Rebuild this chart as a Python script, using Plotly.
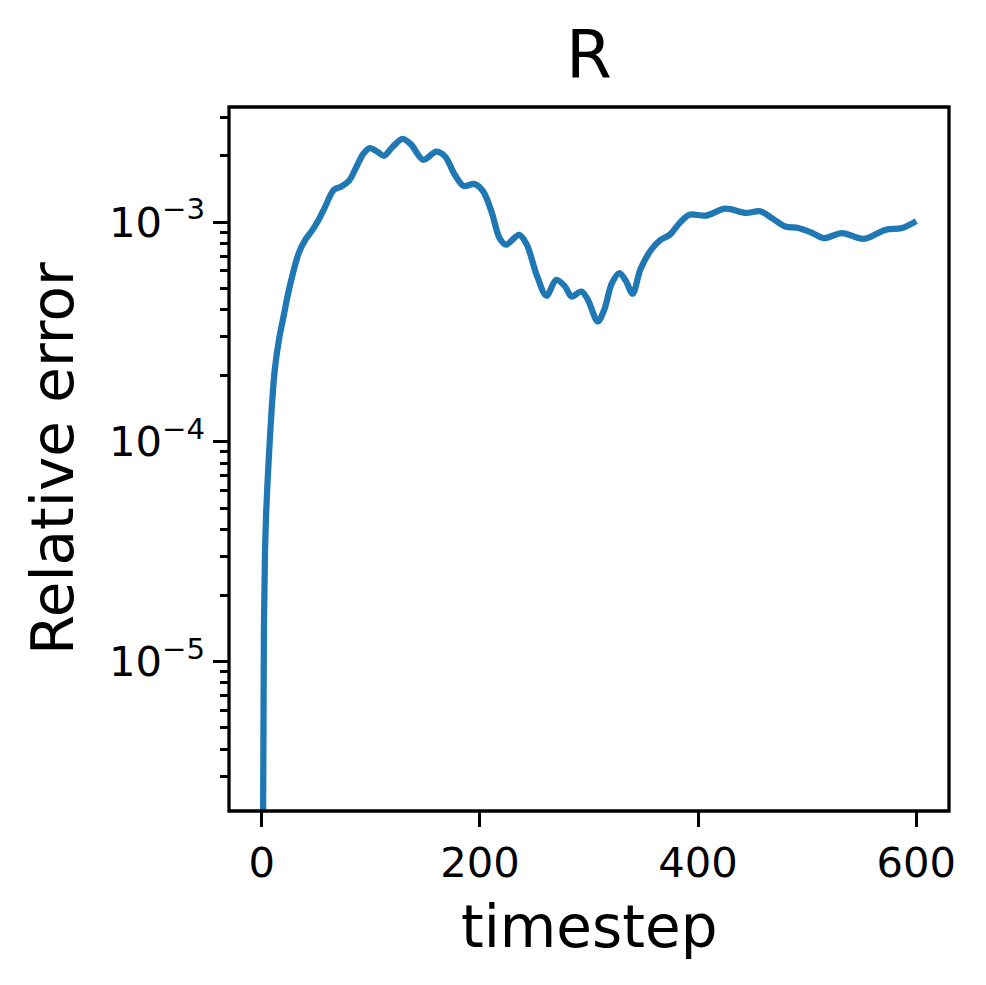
import plotly.graph_objects as go

# ---- data ----
timestep = [1, 2, 3, 4, 6, 9, 12, 16, 20, 24, 28, 34, 40, 46, 51, 58, 66, 73, 80, 87,
            93, 99, 106, 112, 120, 129, 137, 148, 160, 168, 177, 185, 195, 203, 211,
            218, 224, 236, 243, 252, 261, 270, 278, 284, 293, 299, 308, 314, 321, 328,
            334, 340, 347, 357, 366, 374, 383, 392, 407, 425, 444, 457, 468, 480, 492,
            505, 515, 532, 552, 572, 587, 600]
rel_error = [1.0e-6, 1.41e-5, 3.16e-5, 4.68e-5, 7.59e-5, 1.38e-4, 2.14e-4, 2.95e-4,
             3.72e-4, 4.68e-4, 5.69e-4, 7.24e-4, 8.32e-4, 9.12e-4, 1.0e-3, 1.17e-3,
             1.40e-3, 1.45e-3, 1.54e-3, 1.79e-3, 2.04e-3, 2.17e-3, 2.09e-3, 2.00e-3,
             2.20e-3, 2.39e-3, 2.25e-3, 1.92e-3, 2.09e-3, 1.99e-3, 1.64e-3, 1.46e-3,
             1.49e-3, 1.38e-3, 1.10e-3, 8.45e-4, 7.89e-4, 8.75e-4, 7.89e-4, 5.75e-4,
             4.62e-4, 5.46e-4, 5.09e-4, 4.58e-4, 4.83e-4, 4.43e-4, 3.53e-4, 3.99e-4,
             5.27e-4, 5.86e-4, 5.37e-4, 4.72e-4, 6.07e-4, 7.48e-4, 8.32e-4, 8.75e-4,
             9.89e-4, 1.08e-3, 1.07e-3, 1.15e-3, 1.10e-3, 1.12e-3, 1.04e-3, 9.55e-4,
             9.40e-4, 8.91e-4, 8.45e-4, 8.91e-4, 8.38e-4, 9.23e-4, 9.40e-4, 1.01e-3]

x_ticks = [0, 200, 400, 600]
y_ticks = [1e-5, 1e-4, 1e-3]
y_ticktext = ["10<sup>\u22125</sup>", "10<sup>\u22124</sup>", "10<sup>\u22123</sup>"]
y_minor = [m * 10.0 ** e for e in (-6, -5, -4, -3) for m in range(2, 10)]

title_text = "R"
x_label = "timestep"
y_label = "Relative error"

FONT = "DejaVu Sans"

fig = go.Figure()
fig.add_trace(go.Scatter(
    x=timestep, y=rel_error, mode="lines",
    line=dict(color="#1f77b4", width=6.25, shape="spline", smoothing=0.9),
    showlegend=False,
))

axis_common = dict(
    showgrid=False, zeroline=False, showline=False,
    ticks="outside", ticklen=14.6, tickwidth=3.3, tickcolor="black",
    tickfont=dict(family=FONT, size=41.7, color="black"),
)

fig.update_xaxes(range=[-30, 630], tickmode="array", tickvals=x_ticks,
                 ticktext=[str(v) for v in x_ticks], **axis_common)
fig.update_yaxes(type="log", range=[-5.6796, -2.4766], tickmode="array",
                 tickvals=y_ticks, ticktext=y_ticktext,
                 minor=dict(tickvals=y_minor, ticks="outside", ticklen=8.3,
                            tickwidth=2.5, tickcolor="black", showgrid=False),
                 **axis_common)

fig.add_shape(type="rect", xref="paper", yref="paper", x0=0, x1=1, y0=0, y1=1,
              line=dict(color="black", width=3.3), fillcolor="rgba(0,0,0,0)",
              layer="above")

fig.add_annotation(text=title_text, xref="paper", yref="paper", x=0.5, y=1,
                   xanchor="center", yanchor="bottom", yshift=12, showarrow=False,
                   font=dict(family=FONT, size=66, color="black"))
fig.add_annotation(text=x_label, xref="paper", yref="paper", x=0.5, y=0,
                   xanchor="center", yanchor="top", yshift=-80, showarrow=False,
                   font=dict(family=FONT, size=58, color="black"))
fig.add_annotation(text=y_label, xref="paper", yref="paper", x=0, y=0.5,
                   xanchor="right", yanchor="middle", xshift=-140, textangle=-90,
                   showarrow=False, font=dict(family=FONT, size=58, color="black"))

fig.update_layout(
    width=986, height=985,
    margin=dict(l=229, r=37, t=107, b=174),
    paper_bgcolor="white", plot_bgcolor="white",
    font=dict(family=FONT, color="black"),
)

fig.write_html("out.html")
